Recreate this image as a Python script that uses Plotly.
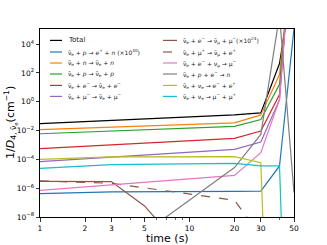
import plotly.graph_objects as go

# ---------------- data ----------------
TIME = [1, 3, 5, 6, 20, 30, 40, 45, 50]

TOTAL      = [3.0e-2, None, None, None, 1.22e-1, 1.68e-1, 4.5e2, 1e6, 1e8]
P_EPLUS_N  = [4.2e-7, 5.5e-7, None, None, 6.1e-7, 6.3e-7, 3.5e-5, None, 1.15e5]
N_SCAT     = [1.15e-2, None, None, None, 3.4e-2, 1.22e-1, 7.8e1, 1e7, 1e9]
P_SCAT     = [6.0e-3, None, None, None, 1.95e-2, 5.9e-2, 1.6e1, 1e7, 1e9]
E_SCAT     = [5.5e-4, None, None, None, 2.9e-3, 9.2e-3, 3.2e0, 1e7, 1e9]
MU_SCAT    = [6.9e-5, None, None, None, 4.9e-4, 1.6e-3, 1.4e0, 1e7, 1e9]
E_NUMU_MU  = [3.0e-6, 2.9e-6, 5.9e-8, 6.9e-9, None, None, None, None, None]
MUP_NUMU_E = [3.2e-6, 2.2e-6, None, None, 1.45e-7, 4.7e-10, None, None, None]
E_NUMU_ABS = [7.1e-7, None, None, None, 7.8e-6, 2.9e-4, 1.4e0, 1e7, 1e9]
P_E_N      = [None, None, None, 3.2e-9, 2.7e-5, 5.4e-3, 1e6, None, 4.9e-7]
NUE_EE     = [1.0e-4, 1.5e-4, None, None, 1.55e-4, 5.9e-5, 1e-40, None, None]
NUE_MUMU   = [2.4e-5, 4.3e-5, None, None, 5.3e-5, 3.5e-5, 3.5e-5, 1e-20, None]

SERIES = [TOTAL, P_EPLUS_N, N_SCAT, P_SCAT, E_SCAT, MU_SCAT,
          E_NUMU_MU, MUP_NUMU_E, E_NUMU_ABS, P_E_N, NUE_EE, NUE_MUMU]

NB = "\u03bd\u0304"  # nu-bar
LABELS = [
    "Total",
    NB + "<sub>e</sub> + <i>p</i> \u2192 <i>e</i><sup>+</sup> + <i>n</i> (\u00d710<sup>40</sup>)",
    NB + "<sub>e</sub> + <i>n</i> \u2192 " + NB + "<sub>e</sub> + <i>n</i>",
    NB + "<sub>e</sub> + <i>p</i> \u2192 " + NB + "<sub>e</sub> + <i>p</i>",
    NB + "<sub>e</sub> + <i>e</i><sup>\u2212</sup> \u2192 " + NB + "<sub>e</sub> + <i>e</i><sup>\u2212</sup>",
    NB + "<sub>e</sub> + \u03bc<sup>\u2212</sup> \u2192 " + NB + "<sub>e</sub> + \u03bc<sup>\u2212</sup>",
    NB + "<sub>e</sub> + <i>e</i><sup>\u2212</sup> \u2192 " + NB + "<sub>\u03bc</sub> + \u03bc<sup>\u2212</sup>(\u00d710<sup>24</sup>)",
    NB + "<sub>e</sub> + \u03bc<sup>+</sup> \u2192 " + NB + "<sub>\u03bc</sub> + <i>e</i><sup>+</sup>",
    NB + "<sub>e</sub> + <i>e</i><sup>\u2212</sup> + \u03bd<sub>\u03bc</sub> \u2192 \u03bc<sup>\u2212</sup>",
    NB + "<sub>e</sub> + <i>p</i> + <i>e</i><sup>\u2212</sup> \u2192 <i>n</i>",
    NB + "<sub>e</sub> + \u03bd<sub>e</sub> \u2192 <i>e</i><sup>\u2212</sup> + <i>e</i><sup>+</sup>",
    NB + "<sub>e</sub> + \u03bd<sub>e</sub> \u2192 \u03bc<sup>\u2212</sup> + \u03bc<sup>+</sup>",
]
COLORS = ["#000000", "#1f77b4", "#ff7f0e", "#2ca02c", "#d62728", "#9467bd",
          "#8c564b", "#8c564b", "#e377c2", "#7f7f7f", "#bcbd22", "#17becf"]
DASHES = ["solid"] * 7 + ["dash"] + ["solid"] * 4

X_TICKS = [1, 2, 3, 5, 10, 20, 30, 50]
X_MINOR = [4, 6, 7, 8, 9, 40]
Y_TICKS = [1e-8, 1e-6, 1e-4, 1e-2, 1e0, 1e2, 1e4]
Y_TICKTEXT = ["10<sup>\u22128</sup>", "10<sup>\u22126</sup>", "10<sup>\u22124</sup>",
              "10<sup>\u22122</sup>", "10<sup>0</sup>", "10<sup>2</sup>", "10<sup>4</sup>"]

# ---------------- figure ----------------
W, H = 327, 245
L, R, T, B = 40, 294, 29.3, 217.3

fig = go.Figure()
for vals, name, col, dash in zip(SERIES, LABELS, COLORS, DASHES):
    fig.add_trace(go.Scatter(x=TIME, y=vals, mode="lines", name=name,
                             connectgaps=True, showlegend=False, hoverinfo="skip",
                             line=dict(color=col, width=1.2, dash=dash)))

# manual two-column legend (compact spacing)
rows_y = [40.7, 52.3, 63.3, 74.3, 85.7, 96.7]
cols = [(50, 62, 66), (163, 177, 181)]
def px_x(px):
    return (px - L) / (R - L)
def px_y(py):
    return (B - py) / (B - T)
shapes = []
annotations = []
for i, (name, col, dash) in enumerate(zip(LABELS, COLORS, DASHES)):
    c = cols[i // 6]
    ry = rows_y[i % 6]
    shapes.append(dict(type="line", xref="paper", yref="paper",
                       x0=px_x(c[0]), x1=px_x(c[1]), y0=px_y(ry), y1=px_y(ry),
                       line=dict(color=col, width=1.2, dash=dash)))
    annotations.append(dict(xref="paper", yref="paper", x=px_x(c[2]), y=px_y(ry),
                            text=name, showarrow=False, xanchor="left", yanchor="middle",
                            font=dict(size=7 if i == 0 else 6.0, color="#222222")))

# axis titles
annotations.append(dict(xref="paper", yref="paper", x=0.5, y=px_y(238.5),
                        text="time (s)", showarrow=False, xanchor="center", yanchor="middle",
                        font=dict(size=11, color="black")))
annotations.append(dict(xref="paper", yref="paper", x=px_x(10), y=0.5,
                        text="1/<i>D</i><sub>4, " + NB + "<sub>e</sub></sub>(cm<sup>\u22121</sup>)",
                        showarrow=False, textangle=-90, xanchor="center", yanchor="middle",
                        font=dict(size=11, color="black")))

fig.update_layout(
    width=W, height=H,
    margin=dict(l=L, r=W - R, t=T, b=H - B, pad=0),
    paper_bgcolor="white", plot_bgcolor="white",
    font=dict(family="DejaVu Sans", color="black"),
    shapes=shapes, annotations=annotations,
    showlegend=False, hovermode=False,
)
fig.update_xaxes(type="log", range=[0, 1.69897], showgrid=False, zeroline=False,
                 showline=True, linecolor="black", linewidth=1, mirror=True,
                 tickmode="array", tickvals=X_TICKS, ticktext=[str(v) for v in X_TICKS],
                 ticks="outside", ticklen=3.5, tickwidth=0.8, tickcolor="black",
                 tickfont=dict(size=7.5),
                 minor=dict(tickvals=X_MINOR, ticks="outside", ticklen=2, tickwidth=0.6,
                            tickcolor="black", showgrid=False))
fig.update_yaxes(type="log", range=[-8, 5.05], showgrid=False, zeroline=False,
                 showline=True, linecolor="black", linewidth=1, mirror=True,
                 tickmode="array", tickvals=Y_TICKS, ticktext=Y_TICKTEXT,
                 ticks="outside", ticklen=3.5, tickwidth=0.8, tickcolor="black",
                 tickfont=dict(size=7.5))

fig.write_html("out.html", config={"displayModeBar": False, "staticPlot": True},
               post_script="document.body.style.margin='0';document.body.style.overflow='hidden';")
